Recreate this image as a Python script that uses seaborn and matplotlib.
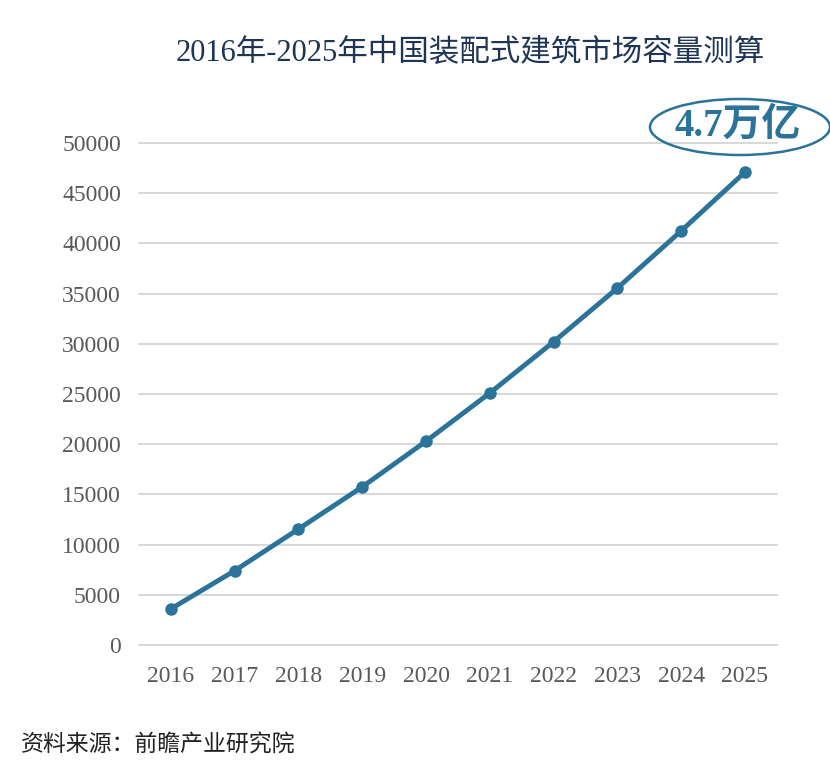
import matplotlib
matplotlib.use("Agg")
import matplotlib.pyplot as plt
from matplotlib.patches import Ellipse
import seaborn as sns
import pandas as pd

# 2016-2025年 中国装配式建筑市场容量（亿元）
years = ["2016", "2017", "2018", "2019", "2020", "2021", "2022", "2023", "2024", "2025"]
capacity = [3600, 7400, 11550, 15750, 20300, 25100, 30200, 35550, 41250, 47100]
y_ticks = [0, 5000, 10000, 15000, 20000, 25000, 30000, 35000, 40000, 45000, 50000]

LINE_COLOR = "#2b7399"
TITLE_COLOR = "#1f3556"

sns.set_theme(style="white")
plt.rcParams["font.family"] = ["Liberation Serif", "Noto Sans CJK SC", "DejaVu Sans"]

df = pd.DataFrame({"Year": years, "Capacity": capacity})

fig = plt.figure(figsize=(8.3, 7.73), dpi=100)
ax = fig.add_axes([0.1675, 0.1656, 0.7685, 0.6494])

sns.lineplot(data=df, x="Year", y="Capacity", ax=ax, color=LINE_COLOR,
             linewidth=3.5, marker="o", markersize=9, markeredgewidth=0, sort=False)

ax.set_xlim(-0.5, len(years) - 0.5)
ax.set_ylim(0, 50000)
ax.set_yticks(y_ticks)
ax.yaxis.grid(True, color="#d9d9d9", linewidth=1.5)
for gl in ax.get_ygridlines():
    gl.set_clip_on(False)
ax.xaxis.grid(False)
for s in ax.spines.values():
    s.set_visible(False)
ax.set_xlabel("")
ax.set_ylabel("")
ax.tick_params(axis="both", length=0, labelsize=17, labelcolor="#595959")
ax.tick_params(axis="x", pad=15)
ax.tick_params(axis="y", pad=13)

fig.text(0.567, 0.931, "2016年-2025年中国装配式建筑市场容量测算", ha="center", va="center",
         fontsize=22, color=TITLE_COLOR)

# 标注椭圆
fig.patches.append(Ellipse((740 / 830, 1 - 127 / 773), 180 / 830, 56 / 773,
                           transform=fig.transFigure, fill=False,
                           edgecolor=LINE_COLOR, linewidth=1.8))
fig.text(738 / 830, 1 - 126 / 773, "4.7万亿", ha="center", va="center",
         fontsize=28, fontweight="bold", color=LINE_COLOR)

fig.text(0.025, 0.035, "资料来源：前瞻产业研究院", ha="left", va="center",
         fontsize=16.5, style="italic", color="#222222")

fig.savefig("out.png", dpi=100)
